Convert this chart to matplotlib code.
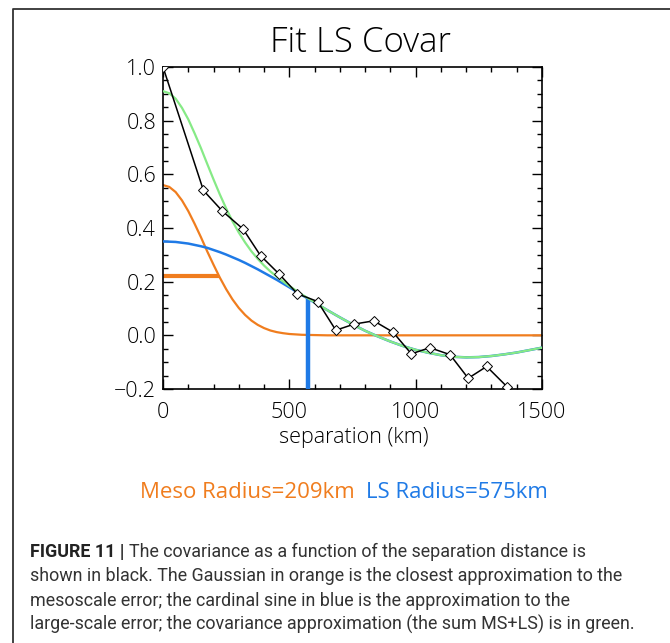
import matplotlib
matplotlib.use('Agg')
import matplotlib.pyplot as plt
from matplotlib.lines import Line2D
from matplotlib.ticker import MultipleLocator

# observed covariance (black line with diamonds)
sep_obs = [0, 160, 235, 317, 386, 458, 532, 612, 684, 757, 834, 910,
           983, 1056, 1136, 1208, 1281, 1361, 1435]
cov_obs = [1.0, 0.54, 0.463, 0.396, 0.297, 0.23, 0.155, 0.126, 0.019, 0.042,
           0.054, 0.012, -0.069, -0.046, -0.072, -0.160, -0.116, -0.191, -0.27]

# fitted curves
sep_fit = [0, 25, 50, 75, 100, 125, 150, 175, 200, 225, 250, 275, 300, 325,
           350, 375, 400, 425, 450, 475, 500, 550, 600, 650, 700, 750, 800,
           850, 900, 950, 1000, 1050, 1100, 1150, 1200, 1250, 1300, 1350,
           1400, 1450, 1500]
meso_fit = [0.560, 0.553, 0.534, 0.503, 0.463, 0.416, 0.366, 0.313, 0.263,
            0.215, 0.172, 0.134, 0.102, 0.076, 0.055, 0.039, 0.027, 0.018,
            0.012, 0.008, 0.005, 0.002, 0.001, 0, 0, 0, 0, 0, 0, 0, 0, 0,
            0, 0, 0, 0, 0, 0, 0, 0, 0]
ls_fit = [0.350, 0.349, 0.348, 0.345, 0.342, 0.337, 0.332, 0.326, 0.318,
          0.310, 0.301, 0.291, 0.281, 0.270, 0.258, 0.246, 0.233, 0.220,
          0.207, 0.193, 0.179, 0.150, 0.122, 0.094, 0.067, 0.041, 0.017,
          -0.004, -0.023, -0.040, -0.054, -0.065, -0.074, -0.080, -0.082,
          -0.081, -0.077, -0.071, -0.064, -0.055, -0.046]
sum_fit = [0.910, 0.902, 0.882, 0.848, 0.805, 0.753, 0.698, 0.639, 0.581,
           0.525, 0.473, 0.425, 0.383, 0.346, 0.313, 0.285, 0.260, 0.238,
           0.219, 0.201, 0.184, 0.152, 0.123, 0.094, 0.067, 0.041, 0.017,
           -0.004, -0.023, -0.040, -0.054, -0.065, -0.074, -0.080, -0.082,
           -0.081, -0.077, -0.071, -0.064, -0.055, -0.046]

meso_radius = 209
ls_radius = 575
meso_bar = ([0, 220], [0.222, 0.222])
ls_bar = ([ls_radius, ls_radius], [-0.2, 0.136])

orange = '#f07d1e'
blue = '#1f7ae6'
green = '#86ea86'
idl_font = 'Open Sans'

fig = plt.figure(figsize=(6.7, 6.43), dpi=100)
ax = fig.add_axes([163 / 670, 1 - 389 / 643, 379 / 670, 322 / 643])

ax.plot(sep_fit, meso_fit, color=orange, lw=1.6, zorder=2)
ax.plot(*meso_bar, color=orange, lw=3, solid_capstyle='butt', zorder=2)
ax.plot(sep_fit, ls_fit, color=blue, lw=1.8, zorder=3)
ax.plot(sep_fit, sum_fit, color=green, lw=1.6, zorder=4)
ax.plot(*ls_bar, color=blue, lw=3.2, solid_capstyle='butt', zorder=3)
ax.plot(sep_obs, cov_obs, color='black', lw=1.1, marker='D', ms=5,
        mfc='white', mec='black', mew=0.7, zorder=5)

ax.set_xlim(0, 1500)
ax.set_ylim(-0.2, 1.0)
ax.xaxis.set_major_locator(MultipleLocator(500))
ax.xaxis.set_minor_locator(MultipleLocator(100))
ax.yaxis.set_major_locator(MultipleLocator(0.2))
ax.yaxis.set_minor_locator(MultipleLocator(0.05))
ax.tick_params(which='both', direction='in', top=True, right=True,
               width=1, colors='black')
ax.tick_params(which='major', length=7)
ax.tick_params(which='minor', length=3.5)
ax.tick_params(axis='x', pad=9)
ax.tick_params(axis='y', pad=5)
for lab in ax.get_xticklabels() + ax.get_yticklabels():
    lab.set_fontfamily(idl_font)
    lab.set_fontweight('light')
    lab.set_fontsize(15.5)
for s in ax.spines.values():
    s.set_linewidth(1.2)

fig.text(361 / 670, 1 - 43 / 643, 'Fit LS Covar', ha='center', va='center',
         fontsize=25, family=idl_font, fontweight='light')
fig.text(354 / 670, 1 - 437 / 643, 'separation (km)', ha='center',
         va='center', fontsize=15.5, family=idl_font, fontweight='light')

fig.text(355 / 670, 1 - 492 / 643, 'Meso Radius=%dkm' % meso_radius,
         ha='right', va='center', fontsize=16, family=idl_font, color=orange)
fig.text(366 / 670, 1 - 492 / 643, 'LS Radius=%dkm' % ls_radius,
         ha='left', va='center', fontsize=16, family=idl_font, color=blue)

# outer frame
fig.add_artist(Line2D([13 / 670, 13 / 670, 1.0], [0.0, 1 - 9 / 643, 1 - 9 / 643],
                      transform=fig.transFigure, color='#333333', lw=1.3))

# caption
cap_font = ['Roboto', 'DejaVu Sans']
cap_size = 12.9
cap_x = 30 / 670
cap_y = [557, 581, 606, 630]
bold = fig.text(cap_x, 1 - cap_y[0] / 643, 'FIGURE 11 |', va='baseline',
                fontsize=cap_size, family=cap_font, fontweight='bold',
                color='#222222')
renderer = fig.canvas.get_renderer()
bb = bold.get_window_extent(renderer)
fig.text(bb.x1 / fig.bbox.width + 5 / 670, 1 - cap_y[0] / 643,
         'The covariance as a function of the separation distance is',
         va='baseline', fontsize=cap_size, family=cap_font, color='#333333')
cap_lines = ['shown in black. The Gaussian in orange is the closest approximation to the',
             'mesoscale error; the cardinal sine in blue is the approximation to the',
             'large-scale error; the covariance approximation (the sum MS+LS) is in green.']
for yy, line in zip(cap_y[1:], cap_lines):
    fig.text(cap_x, 1 - yy / 643, line, va='baseline', fontsize=cap_size,
             family=cap_font, color='#333333')

plt.savefig('out.png', dpi=100)
